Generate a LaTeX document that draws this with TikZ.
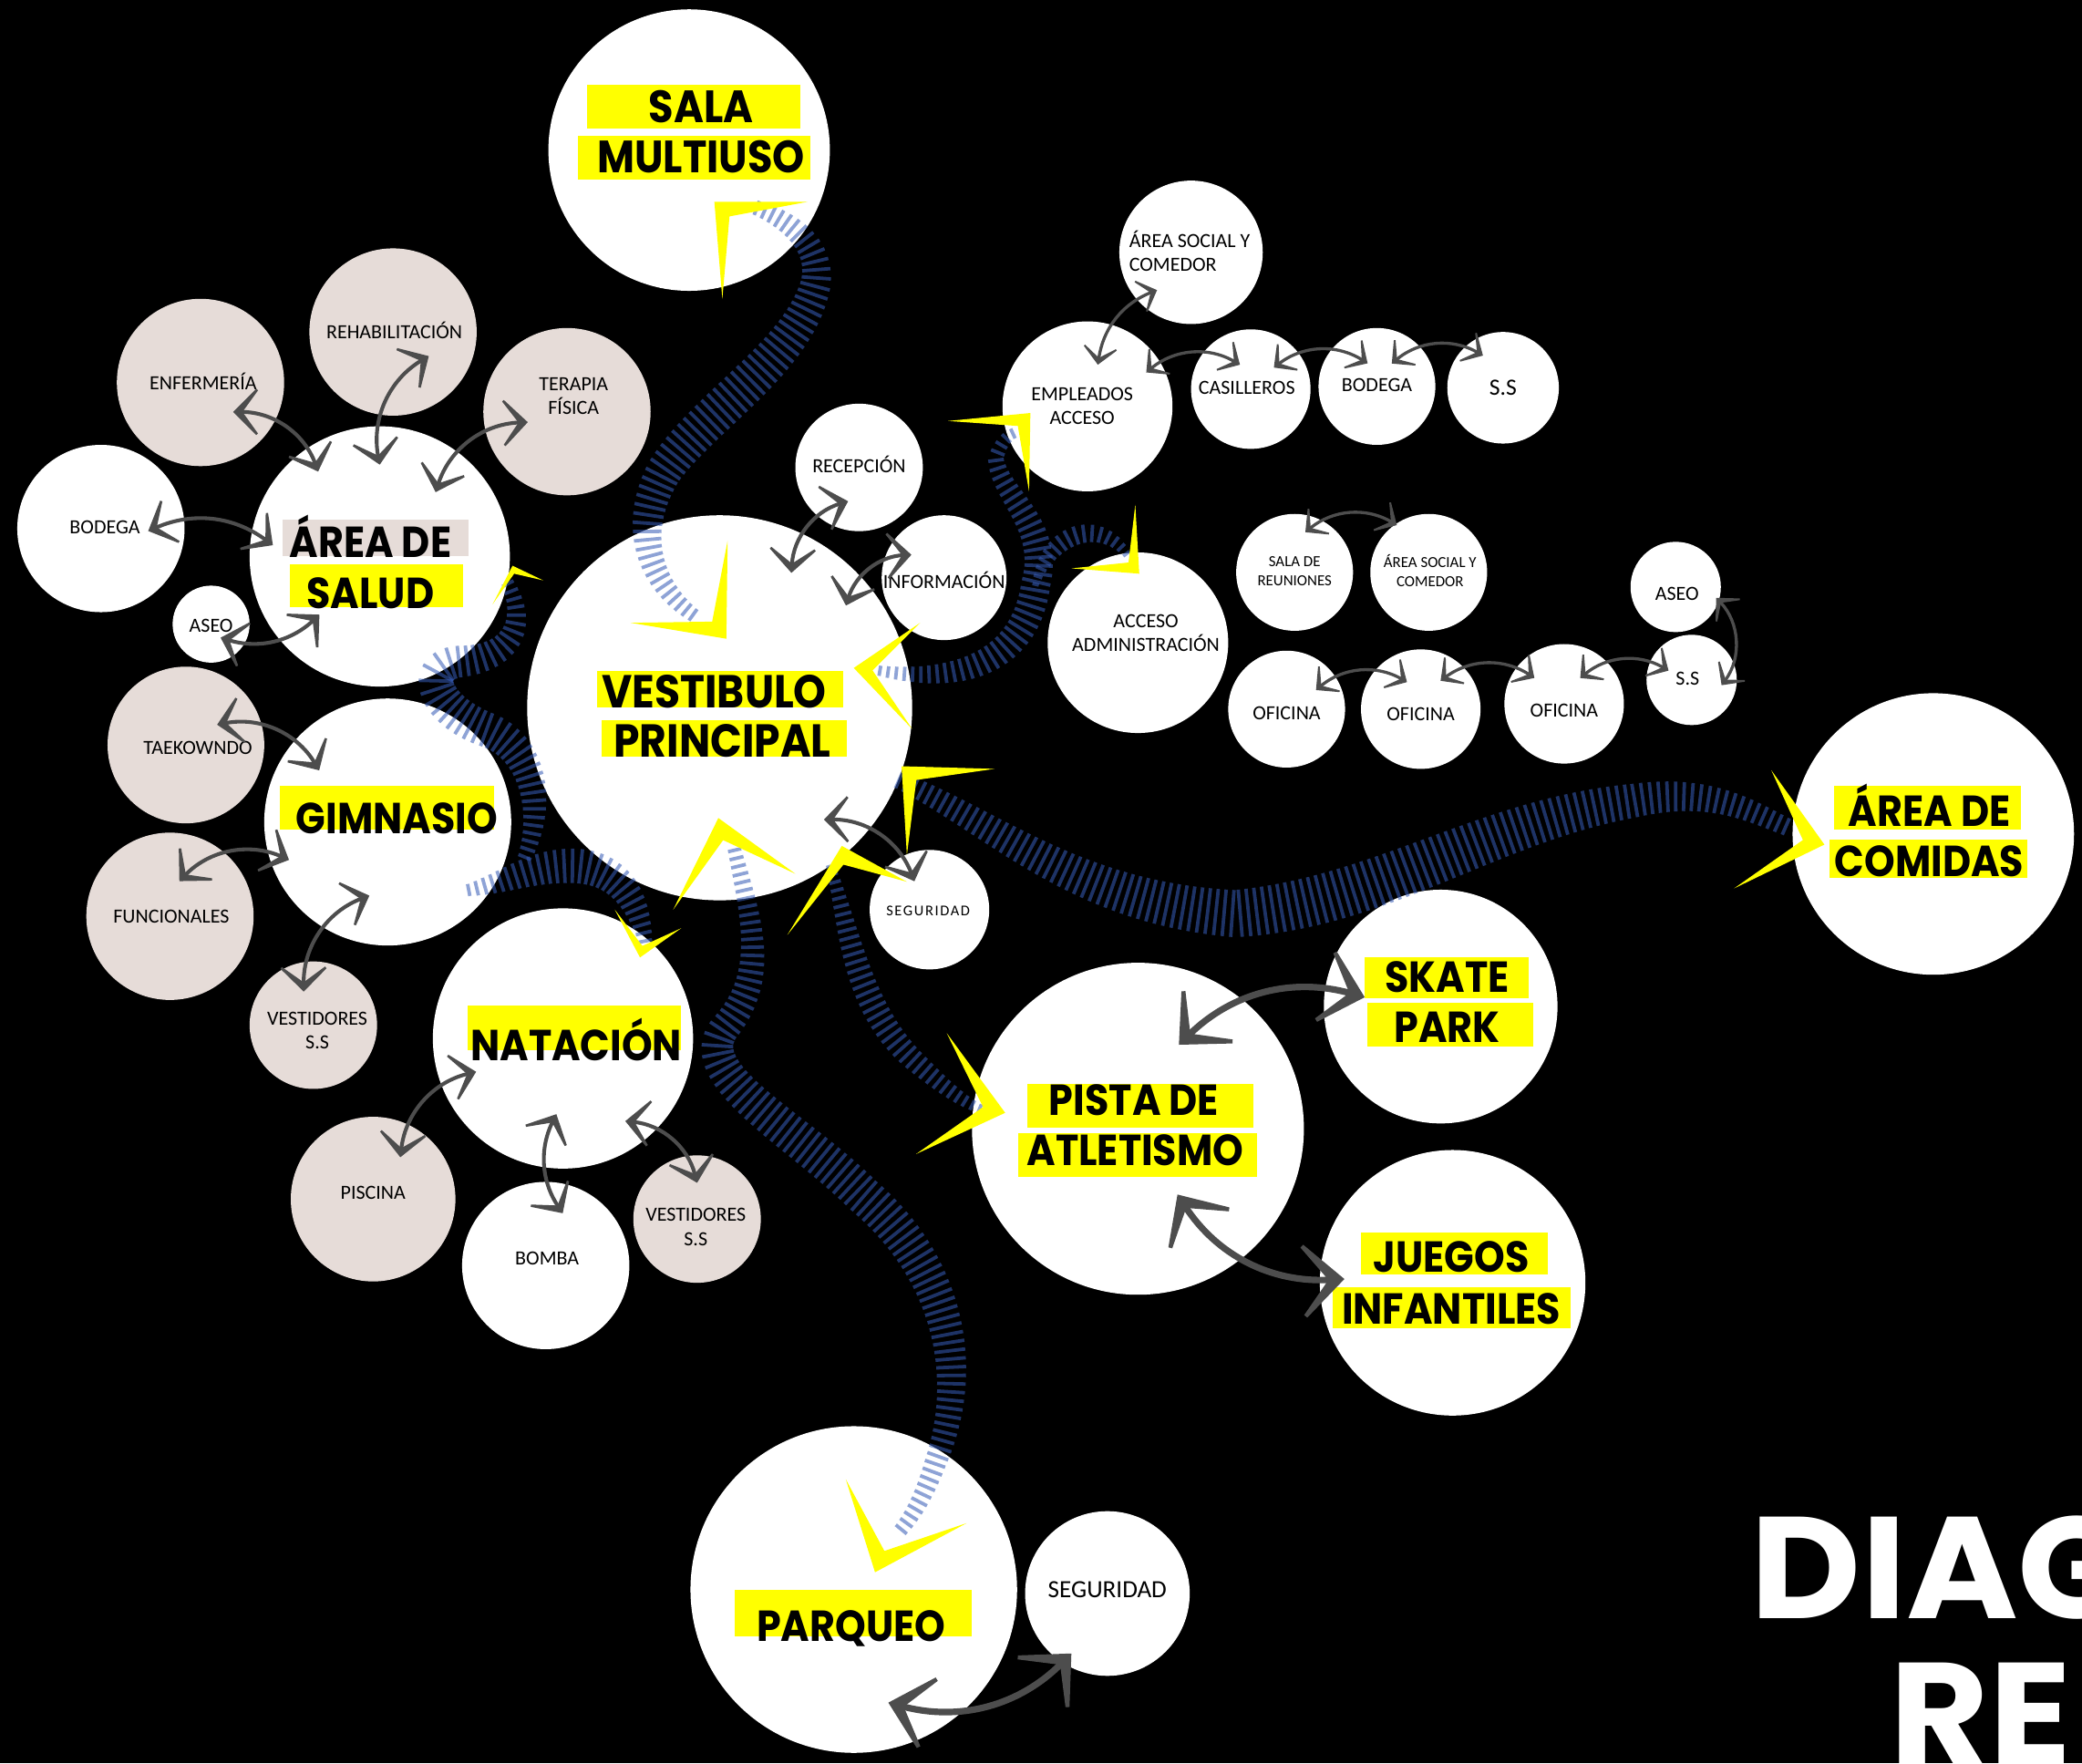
\documentclass[tikz,border=0pt]{standalone}
\usepackage{fontspec}
\setmainfont{Carlito}
\newfontfamily\headfont{Poppins}[FakeStretch=0.9]
\newfontfamily\titlefont{Poppins}[FakeStretch=1.05]
\newfontfamily\spacedfont{Carlito}[LetterSpace=10]
\usetikzlibrary{arrows.meta, calc, decorations.markings}

\definecolor{DRPink}{HTML}{E6DCD8}
\definecolor{DRYellow}{HTML}{FFFF00}
\definecolor{DRGray}{HTML}{4D4D4D}
\definecolor{DRBand}{RGB}{54,91,182}

\tikzset{
zone/.style={circle, fill=white, inner sep=0pt, minimum size=0.2mm*#1},
zonep/.style={zone=#1, fill=DRPink},
tag/.style={inner sep=0pt, align=center, font=\fontsize{4.3}{5.1}\selectfont},
tagsm/.style={inner sep=0pt, align=center, font=\fontsize{3.3}{4.1}\selectfont},
head/.style={inner sep=0pt, anchor=base, font=\headfont\bfseries\fontsize{9.3}{10}\selectfont},
headlg/.style={head, font=\headfont\bfseries\fontsize{9.7}{10}\selectfont},
hl/.style={fill=DRYellow},
hlpink/.style={fill=DRPink},
reltip/.tip={Stealth[length=2.5mm, width=5mm, inset=1.8mm]},
reltipsm/.tip={Stealth[length=1.8mm, width=3.6mm, inset=1.28mm]},
reltipbig/.tip={Stealth[length=4.3mm, width=8mm, inset=3.1mm]},
rel/.style={draw=DRGray, line width=0.8pt, reltip-reltip},
relsm/.style={draw=DRGray, line width=0.65pt, reltipsm-reltipsm},
relbig/.style={draw=DRGray, line width=1.4pt, reltipbig-reltipbig},
chevfill/.style={fill=DRYellow},
flowband/.style={decoration={markings, mark=between positions 0 and 1 step 0.62mm with {
  \pgfmathsetmacro\bandfrac{\pgfkeysvalueof{/pgf/decoration/mark info/distance from start}/\pgfdecoratedpathlength}
  \pgfmathsetmacro\bandhalf{#1*(0.35+0.65*sin(180*\bandfrac))}
  \fill[DRBand, fill opacity=0.56] (-0.13mm,-\bandhalf mm) rectangle (0.13mm,\bandhalf mm);}}, decorate}
}

\newcommand{\chev}[3]{%
  \coordinate (chM) at ($#2!0.5!#3$);
  \fill[chevfill] #2 -- #1 -- #3 -- ($#1!0.3!(chM)$) -- cycle;}

\begin{document}
\begin{tikzpicture}[x=0.1mm, y=-0.1mm]
\useasboundingbox (0,0) rectangle (1568,1328);
\clip (0,0) rectangle (1568,1328);
\fill[black] (0,0) rectangle (1568,1328);

\node[zone=106] (sala) at (519,113) {};
\node[zone=145] (vest) at (542,533) {};
\node[zone=98] (salud) at (286,419) {};
\node[zone=93] (gym) at (292,619) {};
\node[zone=98] (nat) at (424,782) {};
\node[zone=125] (pista) at (857,850) {};
\node[zone=88] (skate) at (1085,758) {};
\node[zone=100] (juegos) at (1094,966) {};
\node[zone=106] (comidas) at (1456,628) {};
\node[zone=123] (parq) at (643,1197) {};
\node[zone=62] (segP) at (834,1200) {};
\node[zone=45] (segV) at (700,685) {};
\node[zone=48] (recep) at (647,352) {};
\node[zone=47] (info) at (711,435) {};
\node[zone=64] (empl) at (819,306) {};
\node[zone=54] (socT) at (897,190) {};
\node[zone=45] (cas) at (942,293) {};
\node[zone=44] (bodR) at (1037,291) {};
\node[zone=42] (ssT) at (1132,292) {};
\node[zone=68] (adm) at (857,484) {};
\node[zone=44] (reun) at (975,431) {};
\node[zone=44] (socB) at (1076,431) {};
\node[zone=44] (ofiA) at (969,534) {};
\node[zone=45] (ofiB) at (1070,534) {};
\node[zone=45] (ofiC) at (1178,530) {};
\node[zone=34] (aseoR) at (1262,442) {};
\node[zone=34] (ssR) at (1274,512) {};
\node[zone=63] (bodL) at (76,398) {};
\node[zonep=63] (enf) at (151,288) {};
\node[zonep=63] (rehab) at (296,250) {};
\node[zonep=63] (terap) at (427,310) {};
\node[zone=29] (aseoL) at (159,470) {};
\node[zonep=59] (taek) at (140,561) {};
\node[zonep=63] (func) at (128,690) {};
\node[zonep=48] (vestG) at (236,772) {};
\node[zonep=62] (pisc) at (281,903) {};
\node[zone=63] (bomba) at (411,953) {};
\node[zonep=48] (vestN) at (525,918) {};

\coordinate (fork) at (780,440);
\path[flowband=1.5] ($(vest)!0.5!(vest.106)$) .. controls (490,440) and (475,400) .. (500,355) .. controls (530,310) and (600,270) .. (614,215) .. controls (620,185) and (595,165) .. ($(sala)!0.59!(sala.-42)$);
\path[flowband=1.35] (salud.-12) .. controls (398,470) and (385,495) .. (348,498) .. controls (315,500) and (325,535) .. (368,550) .. controls (405,565) and (410,615) .. ($(gym)!1.13!(gym.-17)$);
\path[flowband=1.3] ($(gym)!0.85!(gym.-40)$) .. controls (380,665) and (400,652) .. (430,652) .. controls (462,652) and (480,672) .. ($(nat)!0.95!(nat.48)$);
\path[flowband=1.1] ($(vest)!0.85!(vest.13)$) .. controls (720,515) and (772,500) .. (fork) .. controls (792,395) and (752,372) .. (750,345) .. controls (753,335) and (758,328) .. ($(empl)!0.9!(empl.-160)$);
\path[flowband=0.7] (fork) .. controls (790,400) and (830,388) .. ($(adm)!0.94!(adm.96)$);
\path[flowband=1.85] (vest.-22) .. controls (750,620) and (810,680) .. (930,688) .. controls (1040,680) and (1120,618) .. (1230,603) .. controls (1290,592) and (1320,612) .. (comidas.178);
\path[flowband=1.45] ($(vest)!0.74!(vest.-84)$) .. controls (565,690) and (580,735) .. (545,775) .. controls (520,810) and (600,850) .. (650,900) .. controls (720,960) and (728,1040) .. (705,1100) .. controls (695,1130) and (685,1145) .. ($(parq)!0.42!(parq.52)$);
\path[flowband=0.95] (vest.-55) .. controls (640,700) and (645,760) .. (690,800) .. controls (710,818) and (725,830) .. ($(pista)!0.94!(pista.173)$);

\fill[hl] (442,64) rectangle (603,97);
\node[headlg] (salaA) at (528,92) {SALA};
\fill[hl] (435,102) rectangle (610,135);
\node[headlg] (salaB) at (528,130) {MULTIUSO};
\fill[hl] (450,505) rectangle (635,533);
\node[head, font=\headfont\bfseries\fontsize{9.9}{11}\selectfont] (vestA) at (538,533) {VESTIBULO};
\fill[hl] (453,542) rectangle (638,570);
\node[head, font=\headfont\bfseries\fontsize{9.9}{11}\selectfont] (vestB) at (544,570) {PRINCIPAL};
\fill[hlpink] (213,391) rectangle (353,419);
\node[head] (saludA) at (279,420) {ÁREA DE};
\fill[hl] (218,425) rectangle (349,457);
\node[head] (saludB) at (279,458) {SALUD};
\fill[hl] (211,592) rectangle (372,625);
\node[head] (gymA) at (299,628) {GIMNASIO};
\fill[hl] (352,757) rectangle (513,791);
\node[head] (natA) at (434,799) {NATACIÓN};
\fill[hl] (774,816) rectangle (944,849);
\node[head] (pistaA) at (854,840) {PISTA DE};
\fill[hl] (767,853) rectangle (947,886);
\node[head] (pistaB) at (855,878) {ATLETISMO};
\fill[hl] (1028,721) rectangle (1151,752);
\node[head] (skateA) at (1090,747) {SKATE};
\fill[hl] (1030,755) rectangle (1155,788);
\node[head] (skateB) at (1090,785) {PARK};
\fill[hl] (1025,928) rectangle (1166,960);
\node[head] (juegosA) at (1093,958) {JUEGOS};
\fill[hl] (1004,969) rectangle (1183,1000);
\node[head] (juegosB) at (1093,997) {INFANTILES};
\fill[hl] (1381,592) rectangle (1522,625);
\node[head] (comidasA) at (1453,622) {ÁREA DE};
\fill[hl] (1378,632) rectangle (1527,661);
\node[head] (comidasB) at (1453,660) {COMIDAS};
\fill[hl] (553,1197) rectangle (732,1232);
\node[head] (parqA) at (641,1236) {PARQUEO};

\node[tag] (bodL-t) at (79,397) {BODEGA};
\node[tag] (enf-t) at (153,287) {ENFERMERÍA};
\node[tag] (rehab-t) at (297,249) {REHABILITACIÓN};
\node[tag] (terap-t) at (432,298) {TERAPIA\\FÍSICA};
\node[tag] (aseoL-t) at (159,471) {ASEO};
\node[tag] (taek-t) at (149,563) {TAEKOWNDO};
\node[tag] (func-t) at (129,690) {FUNCIONALES};
\node[tag] (vestG-t) at (239,776) {VESTIDORES\\S.S};
\node[tag] (pisc-t) at (281,898) {PISCINA};
\node[tag] (bomba-t) at (412,948) {BOMBA};
\node[tag] (vestN-t) at (524,924) {VESTIDORES\\S.S};
\node[tag] (recep-t) at (647,350) {RECEPCIÓN};
\node[tag] (info-t) at (711,437) {INFORMACIÓN};
\node[tag, font=\spacedfont\fontsize{3.2}{4}\selectfont] (segV-t) at (699,686) {SEGURIDAD};
\node[tag] (empl-t) at (815,306) {EMPLEADOS\\ACCESO};
\node[tag, align=left] (socT-t) at (896,189) {ÁREA SOCIAL Y\\COMEDOR};
\node[tag] (cas-t) at (939,292) {CASILLEROS};
\node[tag] (bodR-t) at (1037,290) {BODEGA};
\node[tag, font=\fontsize{5}{6}\selectfont] (ssT-t) at (1132,292) {S.S};
\node[tag] (adm-t) at (863,477) {ACCESO\\ADMINISTRACIÓN};
\node[tagsm] (reun-t) at (975,430) {SALA DE\\REUNIONES};
\node[tagsm] (socB-t) at (1077,430) {ÁREA SOCIAL Y\\COMEDOR};
\node[tag] (ofiA-t) at (969,537) {OFICINA};
\node[tag] (ofiB-t) at (1070,538) {OFICINA};
\node[tag] (ofiC-t) at (1178,535) {OFICINA};
\node[tag] (aseoR-t) at (1263,447) {ASEO};
\node[tag] (ssR-t) at (1271,511) {S.S};
\node[tag, font=\fontsize{5.3}{6}\selectfont] (segP-t) at (834,1197) {SEGURIDAD};

\draw[rel] ($(salud)!0.8!(salud.126)$) to[bend right=35] ($(enf)!0.52!(enf.-42)$);
\draw[rel] ($(salud)!0.7!(salud.90)$) to[bend left=35] ($(rehab)!0.51!(rehab.-34)$);
\draw[rel] ($(salud)!0.65!(salud.49)$) to[bend left=35] ($(terap)!0.48!(terap.-165)$);
\draw[rel] ($(salud)!0.82!(salud.174)$) to[bend right=30] ($(bodL)!0.56!(bodL.-3)$);
\draw[rel] ($(salud)!0.64!(salud.-136)$) to[bend left=30] ($(aseoL)!0.42!(aseoL.-55)$);
\draw[rel] ($(gym)!0.69!(gym.143)$) to[bend right=35] ($(taek)!0.47!(taek.33)$);
\draw[rel] ($(gym)!0.85!(gym.-159)$) to[bend right=35] ($(func)!0.43!(func.75)$);
\draw[rel] ($(gym)!0.61!(gym.-104)$) to[bend right=35] ($(vestG)!0.54!(vestG.106)$);
\draw[rel] ($(nat)!0.71!(nat.-159)$) to[bend right=35] ($(pisc)!0.6!(pisc.57)$);
\draw[rel] ($(nat)!0.58!(nat.-95)$) to[bend right=30] ($(bomba)!0.65!(bomba.72)$);
\draw[rel] ($(nat)!0.79!(nat.-53)$) to[bend left=35] ($(vestN)!0.56!(vestN.90)$);
\draw[rel] ($(vest)!0.79!(vest.62)$) to[bend left=35] ($(recep)!0.55!(recep.-108)$);
\draw[rel] ($(vest)!0.84!(vest.39)$) to[bend left=35] ($(info)!0.63!(info.145)$);
\draw[rel] ($(vest)!0.79!(vest.-47)$) to[bend left=35] ($(segV)!0.53!(segV.118)$);
\draw[relsm] ($(empl)!0.5!(empl.76)$) to[bend left=30] ($(socT)!0.7!(socT.-132)$);
\draw[relsm] ($(empl)!0.79!(empl.30)$) to[bend left=35] ($(cas)!0.44!(cas.114)$);
\draw[relsm] ($(cas)!0.52!(cas.43)$) to[bend left=35] ($(bodR)!0.42!(bodR.112)$);
\draw[relsm] ($(bodR)!0.46!(bodR.57)$) to[bend left=35] ($(ssT)!0.67!(ssT.122)$);
\draw[relsm] ($(reun)!0.7!(reun.75)$) to[bend left=35] ($(socB)!0.96!(socB.124)$);
\draw[relsm] ($(ofiA)!0.59!(ofiA.33)$) to[bend left=35] ($(ofiB)!0.5!(ofiB.117)$);
\draw[relsm] ($(ofiB)!0.57!(ofiB.55)$) to[bend left=35] ($(ofiC)!0.65!(ofiC.139)$);
\draw[relsm] ($(ofiC)!0.5!(ofiC.58)$) to[bend left=35] ($(ssR)!0.54!(ssR.158)$);
\draw[relsm] ($(ssR)!0.66!(ssR.-10)$) to[bend right=40] ($(aseoR)!0.91!(aseoR.-15)$);
\draw[relbig] ($(pista)!0.56!(pista.64)$) to[bend left=30] ($(skate)!0.65!(skate.173)$);
\draw[relbig] ($(pista)!0.46!(pista.-59)$) to[bend right=30] ($(juegos)!0.81!(juegos.178)$);
\draw[relbig] ($(parq)!0.72!(parq.-73)$) to[bend right=30] ($(segP)!0.84!(segP.-121)$);

\chev{(538,152)}{(608,152)}{(544,225)}
\chev{(547,481)}{(475,469)}{(548,407)}
\chev{(643,503)}{(693,469)}{(687,549)}
\chev{(679,577)}{(749,579)}{(683,644)}
\chev{(541,616)}{(507,685)}{(599,658)}
\chev{(634,637)}{(593,704)}{(683,664)}
\chev{(482,721)}{(463,685)}{(513,699)}
\chev{(386,426)}{(371,455)}{(409,437)}
\chev{(757,838)}{(713,778)}{(690,869)}
\chev{(1374,636)}{(1334,580)}{(1306,669)}
\chev{(659,1184)}{(637,1114)}{(728,1147)}
\chev{(776,311)}{(714,317)}{(775,370)}
\chev{(858,432)}{(855,380)}{(807,428)}

\node[font=\titlefont\bfseries\fontsize{31}{31}\selectfont, text=white, anchor=base west, inner sep=0pt] (titleA) at (1318,1219) {DIAG};
\node[font=\titlefont\bfseries\fontsize{31}{31}\selectfont, text=white, anchor=base west, inner sep=0pt] (titleB) at (1423,1329) {RE};
\end{tikzpicture}
\end{document}
